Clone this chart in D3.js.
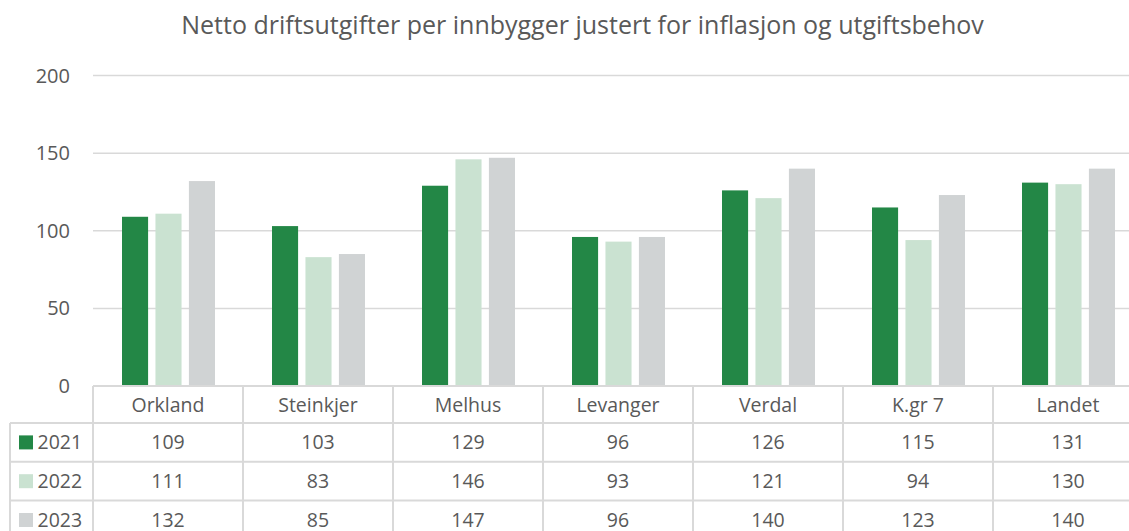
<!DOCTYPE html>
<html>
<head>
<meta charset="utf-8">
<script src="https://cdn.jsdelivr.net/npm/d3@7"></script>
<style>
  html, body { margin: 0; padding: 0; background: #fff; }
  svg { display: block; font-family: "Open Sans", "Liberation Sans", sans-serif; }
</style>
</head>
<body>
<svg id="chart" width="1129" height="531"></svg>
<script>
const categories = ["Orkland", "Steinkjer", "Melhus", "Levanger", "Verdal", "K.gr 7", "Landet"];
const years = ["2021", "2022", "2023"];
const values2021 = [109, 103, 129, 96, 126, 115, 131];
const values2022 = [111, 83, 146, 93, 121, 94, 130];
const values2023 = [132, 85, 147, 96, 140, 123, 140];
const yTicks = [0, 50, 100, 150, 200];
const title = "Netto driftsutgifter per innbygger justert for inflasjon og utgiftsbehov";

const seriesValues = [values2021, values2022, values2023];
const colors = ["#238746", "#cae2d1", "#d0d3d4"];
const textColor = "#595959";
const lineColor = "#d9d9d9";

const svg = d3.select("#chart");
const W = 1129, H = 531;
const left = 93, bandW = 150;
const right = left + bandW * categories.length;
const y0 = 386, yTop = 75.5;
const rowH = 38.8;
const headerBottom = 423;
const fs = 19.5;

const x = d3.scaleBand().domain(categories).range([left, right]);
const y = d3.scaleLinear().domain([0, 200]).range([y0, yTop]);
const xs = d3.scaleBand().domain(years).range([0, 93]).paddingInner(0.22).paddingOuter(0);

// Title
svg.append("text")
  .attr("x", 582.5).attr("y", 33.5)
  .attr("text-anchor", "middle")
  .attr("font-size", 25)
  .attr("fill", textColor)
  .text(title);

// Gridlines
svg.append("g").selectAll("line")
  .data(yTicks.filter(d => d > 0))
  .join("line")
  .attr("x1", left).attr("x2", W)
  .attr("y1", d => y(d)).attr("y2", d => y(d))
  .attr("stroke", lineColor).attr("stroke-width", 1.5);

// Y axis tick labels
svg.append("g").selectAll("text")
  .data(yTicks)
  .join("text")
  .attr("x", 70).attr("y", d => y(d) + 7)
  .attr("text-anchor", "end")
  .attr("font-size", fs + 0.5)
  .attr("fill", textColor)
  .text(d => d);

// Bars
const groups = svg.append("g").selectAll("g")
  .data(categories)
  .join("g")
  .attr("transform", c => `translate(${x(c) + 29},0)`);

groups.selectAll("rect")
  .data((c, i) => years.map((yr, s) => ({ yr, s, v: seriesValues[s][i] })))
  .join("rect")
  .attr("x", d => xs(d.yr))
  .attr("width", xs.bandwidth())
  .attr("y", d => y(d.v))
  .attr("height", d => y0 - y(d.v))
  .attr("fill", d => colors[d.s]);

// Data table grid
const tbl = svg.append("g").attr("stroke", lineColor).attr("stroke-width", 2).attr("fill", "none");
tbl.append("line").attr("x1", left).attr("x2", W).attr("y1", y0).attr("y2", y0);
[headerBottom, headerBottom + rowH, headerBottom + 2 * rowH].forEach(yy => {
  tbl.append("line").attr("x1", 10).attr("x2", W).attr("y1", yy).attr("y2", yy);
});
d3.range(categories.length + 1).forEach(i => {
  const xx = left + i * bandW;
  tbl.append("line").attr("x1", xx).attr("x2", xx).attr("y1", y0).attr("y2", H);
});
tbl.append("line").attr("x1", 10).attr("x2", 10).attr("y1", headerBottom).attr("y2", H);

// Category header labels
svg.append("g").selectAll("text")
  .data(categories)
  .join("text")
  .attr("x", c => x(c) + bandW / 2)
  .attr("y", 411.5)
  .attr("text-anchor", "middle")
  .attr("font-size", fs)
  .attr("fill", textColor)
  .text(c => c);

// Rows: legend key + values
years.forEach((yr, s) => {
  const cy = headerBottom + rowH * s + rowH / 2;
  svg.append("rect")
    .attr("x", 19).attr("y", cy - 7).attr("width", 14).attr("height", 14)
    .attr("fill", colors[s]);
  svg.append("text")
    .attr("x", 37.5).attr("y", cy + 6.8)
    .attr("font-size", fs)
    .attr("fill", textColor)
    .text(yr);
  svg.append("g").selectAll("text")
    .data(seriesValues[s])
    .join("text")
    .attr("x", (d, i) => x(categories[i]) + bandW / 2)
    .attr("y", cy + 6.8)
    .attr("text-anchor", "middle")
    .attr("font-size", fs)
    .attr("fill", textColor)
    .text(d => d);
});
</script>
</body>
</html>
